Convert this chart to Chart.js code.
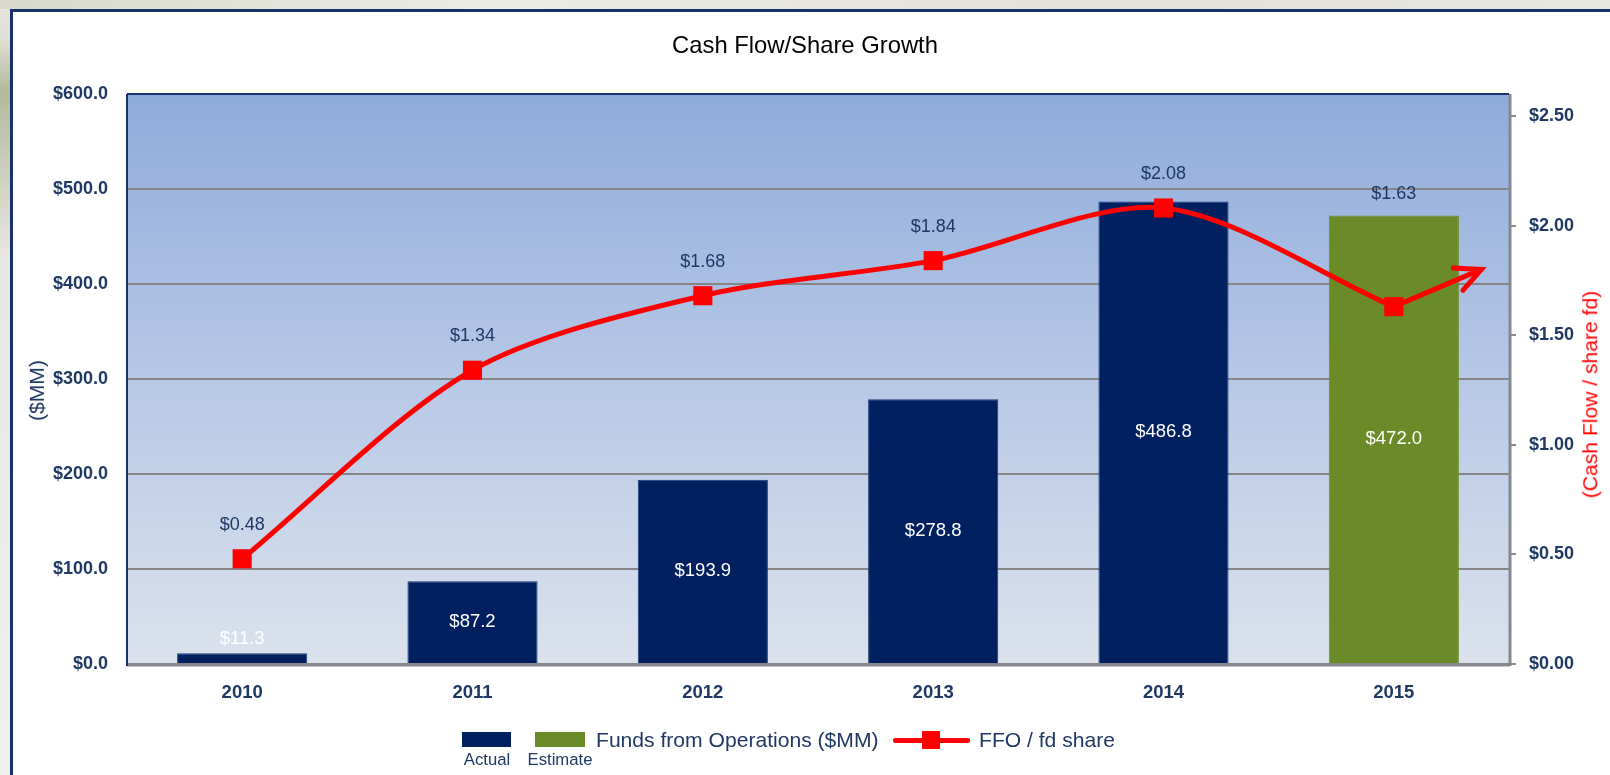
<!DOCTYPE html>
<html>
<head>
<meta charset="utf-8">
<script src="https://cdn.jsdelivr.net/npm/chart.js@4.4.1/dist/chart.umd.min.js"></script>
<style>
  html, body { margin: 0; padding: 0; }
  body {
    width: 1610px; height: 775px; overflow: hidden; position: relative;
    background: linear-gradient(to bottom, #e6e6de 0px, #dfe0d4 40px, #b4b99c 90px, #c9ccb8 160px, #e8e8e2 260px, #f0f0ec 775px);
  }
  #topstrip { position: absolute; left: 0; top: 0; width: 1610px; height: 9px;
    background: linear-gradient(to right, #d8d9cc, #ececE6 30%, #e2e2da 70%, #e8e8e2); }
  #panel {
    position: absolute; left: 10px; top: 9px; width: 1620px; height: 800px;
    background: #ffffff; border: 3px solid #17336e; box-sizing: border-box;
  }
  #chart { position: absolute; left: 0; top: 0; }
  .axt { position: absolute; white-space: nowrap; transform-origin: center center; line-height: 1; }
  #ytitle { color: #1f3864; }
  #y1title { color: #ff0000; }
  .lg { position: absolute; color: #1f3864; white-space: nowrap; line-height: 1; }
</style>
</head>
<body>
<div id="topstrip"></div>
<div id="panel"></div>
<canvas id="chart" width="1610" height="775"></canvas>
<div id="ytitle" class="axt">($MM)</div>
<div id="y1title" class="axt">(Cash Flow / share fd)</div>

<div class="lg" style="left:462px;top:732px;width:49px;height:15px;background:#002060;"></div>
<div class="lg" style="left:535px;top:732px;width:50px;height:15px;background:#6b8a28;"></div>
<div class="lg lgs" style="left:447px;width:80px;text-align:center;">Actual</div>
<div class="lg lgs" style="left:520px;width:80px;text-align:center;">Estimate</div>
<div class="lg lgm" style="left:596px;">Funds from Operations ($MM)</div>
<div class="lg" style="left:893px;top:738px;width:77px;height:5px;background:#ff0000;border-radius:2px;"></div>
<div class="lg" style="left:922px;top:731px;width:18px;height:18px;background:#ff0000;"></div>
<div class="lg lgm" style="left:979px;">FFO / fd share</div>

<script>
// ---- data ----
const categories = ['2010', '2011', '2012', '2013', '2014', '2015'];
const ffoValues = [11.3, 87.2, 193.9, 278.8, 486.8, 472.0];          // Funds from Operations ($MM)
const ffoKinds = ['Actual', 'Actual', 'Actual', 'Actual', 'Actual', 'Estimate'];
const perShareValues = [0.48, 1.34, 1.68, 1.84, 2.08, 1.63];          // FFO / fd share
const trendArrowEnd = { x: 5.38, y: 1.80 };                           // end of trend arrow after 2015
const leftTicks = [0, 100, 200, 300, 400, 500, 600];
const rightTicks = [0, 0.5, 1.0, 1.5, 2.0, 2.5];
const leftMax = 600;
const rightMax = 2.6;

// ---- fonts ----
function hasFont(name) {
  const c = document.createElement('canvas').getContext('2d');
  const s = 'abcdefghijklmnopqrstuvwxyzABCDEFGHIJ0123456789';
  c.font = '40px monospace';
  const w1 = c.measureText(s).width;
  c.font = "40px '" + name + "', monospace";
  return Math.abs(c.measureText(s).width - w1) > 0.5;
}
const NARROW = hasFont('Liberation Sans Narrow');
const FONT = NARROW ? "'Liberation Sans Narrow', 'Liberation Sans', Arial, sans-serif" : "'Liberation Sans', Arial, sans-serif";
const K = NARROW ? 1 : 0.88;
const sz = v => Math.round(v * K * 10) / 10;

// ---- styles ----
const NAVY = '#002060';
const GREEN = '#6b8a28';
const TEXT = '#1f3864';
const RED = '#ff0000';
const kindColor = { Actual: NAVY, Estimate: GREEN };
const kindBorder = { Actual: '#1d3a78', Estimate: GREEN };

const lineData = perShareValues.map((v, i) => ({ x: i, y: v }));
const last = perShareValues.length - 1;
const arrowData = [{ x: last, y: perShareValues[last] }, trendArrowEnd];

const bgPlugin = {
  id: 'plotBg',
  beforeDraw(chart) {
    const { ctx, chartArea: a } = chart;
    const g = ctx.createLinearGradient(0, a.top, 0, a.bottom);
    g.addColorStop(0, '#8fabdb');
    g.addColorStop(0.5, '#b7c8e6');
    g.addColorStop(1, '#dbe2ec');
    ctx.save();
    ctx.fillStyle = g;
    ctx.fillRect(a.left, a.top, a.right - a.left, a.bottom - a.top);
    ctx.restore();
  },
  beforeDatasetsDraw(chart) {
    const { ctx, chartArea: a } = chart;
    ctx.save();
    ctx.lineCap = 'butt';
    ctx.strokeStyle = '#858890';
    ctx.lineWidth = 3;
    ctx.beginPath();
    ctx.moveTo(a.left, a.bottom + 1);
    ctx.lineTo(a.right + 1, a.bottom + 1);
    ctx.moveTo(a.right + 1, a.top);
    ctx.lineTo(a.right + 1, a.bottom + 2);
    ctx.stroke();
    ctx.strokeStyle = '#17336e';
    ctx.lineWidth = 2;
    ctx.beginPath();
    ctx.moveTo(a.left, a.top);
    ctx.lineTo(a.right, a.top);
    ctx.moveTo(a.left, a.top);
    ctx.lineTo(a.left, a.bottom + 2);
    ctx.stroke();
    ctx.restore();
  }
};

const labelPlugin = {
  id: 'valueLabels',
  afterDatasetsDraw(chart) {
    const { ctx } = chart;
    const barMeta = chart.getDatasetMeta(2);
    const lineMeta = chart.getDatasetMeta(0);
    const arrowMeta = chart.getDatasetMeta(1);
    ctx.save();
    ctx.textAlign = 'center';
    ctx.textBaseline = 'middle';
    // bar labels
    ctx.font = sz(21) + 'px ' + FONT;
    ctx.fillStyle = '#ffffff';
    barMeta.data.forEach((bar, i) => {
      const cy = Math.min((bar.y + bar.base) / 2, bar.base - 24);
      ctx.fillText('$' + ffoValues[i].toFixed(1), bar.x, cy);
    });
    // line labels
    ctx.font = sz(20.5) + 'px ' + FONT;
    ctx.fillStyle = TEXT;
    perShareValues.forEach((v, i) => {
      const pt = lineMeta.data[i];
      const bar = barMeta.data[i];
      const cy = Math.min(pt.y - 34, bar.y - 22);
      ctx.fillText('$' + v.toFixed(2), pt.x, cy);
    });
    // arrow head at end of trend arrow
    const tip = arrowMeta.data[1];
    const from = arrowMeta.data[0];
    const ang = Math.atan2(tip.y - from.y, tip.x - from.x);
    const len = 28, spread = 0.45;
    ctx.strokeStyle = RED;
    ctx.lineWidth = 5;
    ctx.lineCap = 'round';
    ctx.lineJoin = 'miter';
    ctx.beginPath();
    ctx.moveTo(tip.x - len * Math.cos(ang - spread), tip.y - len * Math.sin(ang - spread));
    ctx.lineTo(tip.x, tip.y);
    ctx.lineTo(tip.x - len * Math.cos(ang + spread), tip.y - len * Math.sin(ang + spread));
    ctx.stroke();
    ctx.restore();
  }
};

const titleSize = sz(27);
const titleH = titleSize * 1.2;
const titleTop = 46 - titleH / 2;

new Chart(document.getElementById('chart'), {
  data: {
    labels: categories,
    datasets: [
      {
        type: 'line',
        label: 'FFO / fd share',
        data: lineData,
        xAxisID: 'xl',
        yAxisID: 'y1',
        borderColor: RED,
        borderWidth: 5,
        tension: 0.3,
        pointStyle: 'rect',
        pointRadius: 13.5,
        pointHoverRadius: 13.5,
        pointBackgroundColor: RED,
        pointBorderColor: RED,
        pointBorderWidth: 0,
        clip: false,
        order: 0
      },
      {
        type: 'line',
        label: 'trend',
        data: arrowData,
        xAxisID: 'xl',
        yAxisID: 'y1',
        borderColor: RED,
        borderWidth: 5,
        borderCapStyle: 'round',
        tension: 0,
        pointRadius: 0,
        clip: false,
        order: 1
      },
      {
        type: 'bar',
        label: 'Funds from Operations ($MM)',
        data: ffoValues,
        xAxisID: 'x',
        yAxisID: 'y',
        backgroundColor: ffoKinds.map(k => kindColor[k]),
        borderColor: ffoKinds.map(k => kindBorder[k]),
        borderWidth: 1,
        grouped: false,
        barPercentage: 0.565,
        categoryPercentage: 1.0,
        order: 2
      }
    ]
  },
  options: {
    responsive: false,
    animation: false,
    events: [],
    layout: { padding: 0 },
    plugins: {
      legend: { display: false },
      tooltip: { enabled: false },
      title: {
        display: true,
        text: 'Cash Flow/Share Growth',
        color: '#000000',
        font: { family: FONT, size: titleSize, weight: 'normal', lineHeight: 1.2 },
        padding: { top: titleTop, bottom: 94 - titleTop - titleH }
      }
    },
    scales: {
      x: {
        type: 'category',
        position: 'bottom',
        offset: true,
        grid: { display: false, drawTicks: false },
        border: { display: false },
        ticks: { color: TEXT, padding: 18, font: { family: FONT, size: sz(21), weight: 'bold' } },
        afterFit(s) { s.height = 111; }
      },
      xl: { type: 'linear', display: false, min: -0.5, max: 5.5 },
      y: {
        position: 'left',
        min: 0,
        max: leftMax,
        afterBuildTicks(s) { s.ticks = leftTicks.map(v => ({ value: v })); },
        grid: { color: '#868686', lineWidth: 2, drawTicks: false },
        border: { display: false },
        ticks: {
          color: TEXT, padding: 19,
          font: { family: FONT, size: sz(20.5), weight: 'bold' },
          callback: v => '$' + Number(v).toFixed(1)
        },
        afterFit(s) { s.width = 127; }
      },
      y1: {
        position: 'right',
        min: 0,
        max: rightMax,
        afterBuildTicks(s) { s.ticks = rightTicks.map(v => ({ value: v })); },
        grid: { drawOnChartArea: false, drawTicks: true, tickLength: 7, color: '#8a8a8a', lineWidth: 2 },
        border: { display: false },
        ticks: {
          color: TEXT, padding: 13,
          font: { family: FONT, size: sz(20.5), weight: 'bold' },
          callback: v => '$' + Number(v).toFixed(2)
        },
        afterFit(s) { s.width = 101; }
      }
    }
  },
  plugins: [bgPlugin, labelPlugin]
});

// ---- HTML text: axis titles and legend ----
document.querySelectorAll('.axt, .lg').forEach(el => { el.style.fontFamily = FONT; });
document.querySelectorAll('.axt').forEach(el => { el.style.fontSize = sz(24) + 'px'; });
document.querySelectorAll('.lgm').forEach(el => { el.style.fontSize = sz(24) + 'px'; el.style.top = (740 - sz(24) / 2) + 'px'; });
document.querySelectorAll('.lgs').forEach(el => { el.style.fontSize = sz(19) + 'px'; el.style.top = (760 - sz(19) / 2) + 'px'; });

function placeRotated(el, cx, cy) {
  const w = el.offsetWidth, h = el.offsetHeight;
  el.style.left = (cx - w / 2) + 'px';
  el.style.top = (cy - h / 2) + 'px';
  el.style.transform = 'rotate(-90deg)';
}
placeRotated(document.getElementById('ytitle'), 36, 390);
placeRotated(document.getElementById('y1title'), 1590, 394);
</script>
</body>
</html>
